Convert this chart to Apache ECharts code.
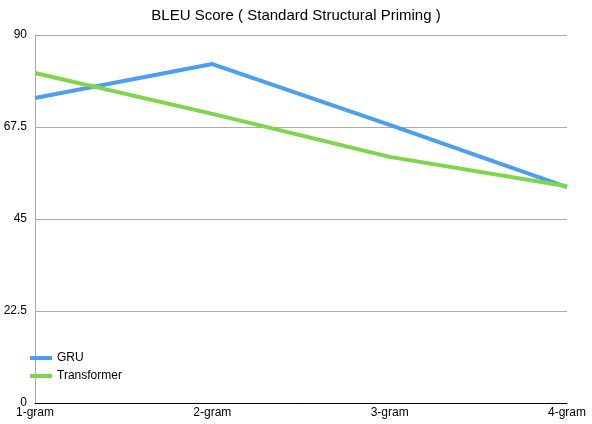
<!DOCTYPE html>
<html><head><meta charset="utf-8">
<script src="https://cdn.jsdelivr.net/npm/echarts@6/dist/echarts.min.js"></script>
<style>html,body{margin:0;padding:0;background:#fff}#c{width:592px;height:424px}</style>
</head><body><div id="c"></div>
<script>
const categories = ['1-gram','2-gram','3-gram','4-gram'];
const gru = [74.6, 82.9, 68.0, 52.8];
const transformer = [80.7, 70.7, 60.2, 53.0];
const yTicks = [0, 22.5, 45, 67.5, 90];
const chart = echarts.init(document.getElementById('c'));
chart.setOption({
  animation:false,
  title:{text:'BLEU Score ( Standard Structural Priming )',left:'center',top:3,
    textStyle:{fontFamily:'Helvetica, Liberation Sans, Arial',fontWeight:'normal',fontSize:15,color:'#000'}},
  grid:{left:35,right:25,top:35,bottom:21},
  legend:{orient:'vertical',left:25,top:347,itemWidth:22,itemHeight:4,itemGap:6,icon:'rect',
    textStyle:{fontFamily:'Liberation Sans, Arial',fontSize:12,color:'#000'},
    data:['GRU','Transformer']},
  xAxis:{type:'category',data:categories,boundaryGap:false,
    axisLine:{lineStyle:{color:'#000'}},axisTick:{show:false},
    axisLabel:{color:'#000',fontSize:12,fontFamily:'Liberation Sans, Arial',margin:4}},
  yAxis:{type:'value',min:0,max:90,interval:22.5,
    axisLine:{show:true,lineStyle:{color:'#aaa'}},axisTick:{show:false},
    axisLabel:{color:'#000',fontSize:12,fontFamily:'Liberation Sans, Arial',margin:8,
      formatter:v=>yTicks.includes(v)?String(v):''},
    splitLine:{lineStyle:{color:'#aaa'}}},
  series:[
    {name:'GRU',type:'line',data:gru,symbol:'none',lineStyle:{width:4,color:'#4a9ff0'},itemStyle:{color:'#4a9ff0'}},
    {name:'Transformer',type:'line',data:transformer,symbol:'none',lineStyle:{width:4,color:'#7fd64a'},itemStyle:{color:'#7fd64a'}}
  ]
});
</script></body></html>
